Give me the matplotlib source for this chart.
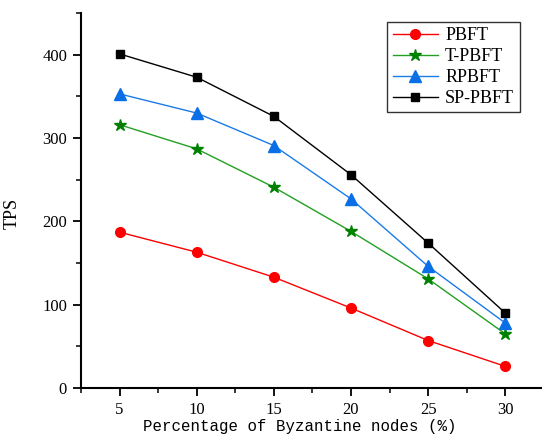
import matplotlib
matplotlib.use("Agg")
import matplotlib.pyplot as plt
from matplotlib.ticker import MultipleLocator

# percentage of byzantine nodes
x = [5, 10, 15, 20, 25, 30]

pbft = [187, 163, 133, 96, 57, 26]
t_pbft = [316, 287, 241, 188, 131, 65]
rpbft = [353, 330, 291, 227, 146, 78]
sp_pbft = [401, 373, 326, 256, 174, 90]

plt.rcParams["font.family"] = ["Liberation Serif", "DejaVu Serif"]

fig = plt.figure(figsize=(5.42, 4.37), dpi=100)
ax = fig.add_axes([0.1494, 0.1121, 0.854, 0.858])

ax.plot(x, pbft, color="#ff0000", lw=1, marker="o", ms=7, label="PBFT")
ax.plot(x, t_pbft, color="#22a022", lw=1, marker="*", ms=9,
        mfc="#008000", mec="#008000", label="T-PBFT")
ax.plot(x, rpbft, color="#1a7be8", lw=1, marker="^", ms=8,
        mfc="#0a6fe6", mec="#0a6fe6", label="RPBFT")
ax.plot(x, sp_pbft, color="#000000", lw=1, marker="s", ms=6, label="SP-PBFT")

ax.set_xlim(2.5, 32.5)
ax.set_ylim(0, 450)
ax.xaxis.set_major_locator(MultipleLocator(5))
ax.xaxis.set_minor_locator(MultipleLocator(2.5))
ax.yaxis.set_major_locator(MultipleLocator(100))
ax.yaxis.set_minor_locator(MultipleLocator(50))
ax.set_yticks([0, 100, 200, 300, 400])

for s in ["top", "right"]:
    ax.spines[s].set_visible(False)
for s in ["left", "bottom"]:
    ax.spines[s].set_linewidth(1.5)

ax.tick_params(which="major", direction="out", length=6, width=1.3,
               labelsize=12, pad=4)
ax.tick_params(which="minor", direction="out", length=3.5, width=1.1)

ax.set_xlabel("Percentage of Byzantine nodes (%)", family="Liberation Mono",
              fontsize=11.3)
ax.xaxis.set_label_coords(0.473, -0.083)
ax.set_ylabel("TPS", fontsize=13)
ax.yaxis.set_label_coords(-0.13, 0.465)

leg = ax.legend(loc="upper left", bbox_to_anchor=(0.662, 0.977),
                fontsize=13, frameon=True, fancybox=False,
                handlelength=2.5, borderpad=0.3, labelspacing=0.22,
                handletextpad=0.4, borderaxespad=0)
leg.get_frame().set_edgecolor("black")
leg.get_frame().set_linewidth(1.0)

fig.savefig("out.png", dpi=100)
